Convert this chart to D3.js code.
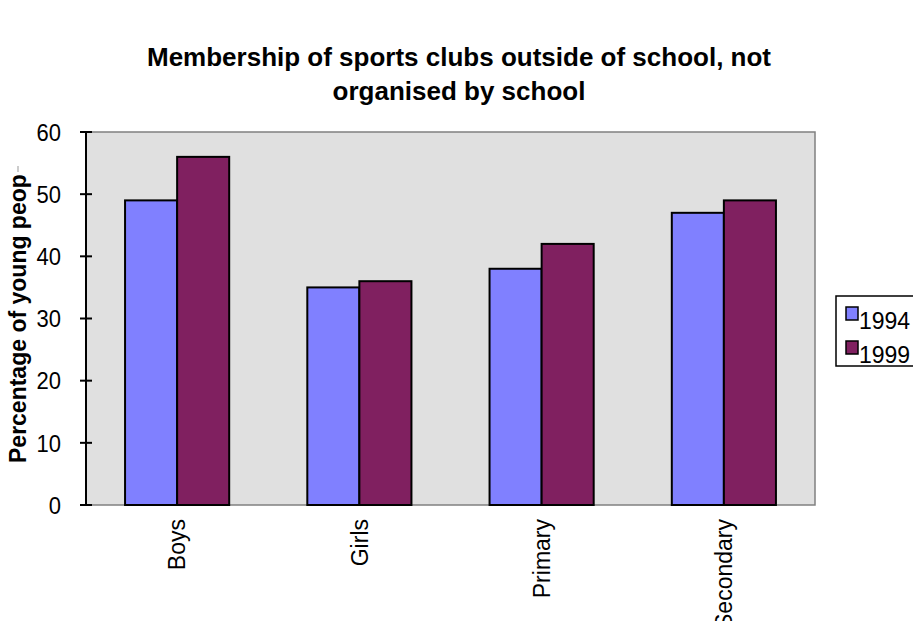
<!DOCTYPE html>
<html>
<head>
<meta charset="utf-8">
<script src="https://cdn.jsdelivr.net/npm/d3@7"></script>
<style>
  html, body { margin: 0; padding: 0; background: #fff; }
  svg { display: block; }
  text { font-family: "Liberation Sans", Arial, sans-serif; fill: #000; }
</style>
</head>
<body>
<svg id="chart" width="913" height="621"></svg>
<script>
const titleLines = ["Membership of sports clubs outside of school, not", "organised by school"];
const yAxisTitle = "Percentage of young people";
const categories = ["Boys", "Girls", "Primary", "Secondary"];
const seriesNames = ["1994", "1999"];
const values1994 = [49, 35, 38, 47];
const values1999 = [56, 36, 42, 49];
const yTicks = [0, 10, 20, 30, 40, 50, 60];
const colors = ["#8080ff", "#802060"];

const series = [values1994, values1999];
const svg = d3.select("#chart");
const plot = { left: 86, right: 815, top: 132, bottom: 505 };

// title
svg.append("g").selectAll("text").data(titleLines).join("text")
  .attr("x", 459).attr("y", (d, i) => 66 + i * 34)
  .attr("text-anchor", "middle")
  .attr("font-size", 26).attr("font-weight", "bold")
  .text(d => d);

const y = d3.scaleLinear().domain([0, 60]).range([plot.bottom, plot.top]);
const x = d3.scaleBand().domain(categories).range([plot.left, plot.right])
  .paddingInner(0.4286).paddingOuter(0.2143);
const xs = d3.scaleBand().domain(seriesNames).range([0, x.bandwidth()]);

// plot background
svg.append("rect")
  .attr("x", plot.left).attr("y", plot.top)
  .attr("width", plot.right - plot.left).attr("height", plot.bottom - plot.top)
  .attr("fill", "#e0e0e0").attr("stroke", "#808080").attr("stroke-width", 1.5);

// bars
const groups = svg.append("g").selectAll("g").data(categories).join("g")
  .attr("transform", d => `translate(${x(d)},0)`);
groups.selectAll("rect")
  .data((c, ci) => seriesNames.map((s, si) => ({ s, si, v: series[si][ci] })))
  .join("rect")
  .attr("x", d => xs(d.s)).attr("width", xs.bandwidth())
  .attr("y", d => y(d.v)).attr("height", d => y(0) - y(d.v))
  .attr("fill", d => colors[d.si])
  .attr("stroke", "#000").attr("stroke-width", 2);

// y axis
const ya = svg.append("g").attr("transform", `translate(${plot.left},0)`);
ya.append("line").attr("x1", 0).attr("x2", 0).attr("y1", plot.top).attr("y2", plot.bottom)
  .attr("stroke", "#000").attr("stroke-width", 2);
ya.selectAll("line.tick").data(yTicks).join("line").attr("class", "tick")
  .attr("x1", -6).attr("x2", 6).attr("y1", d => y(d)).attr("y2", d => y(d))
  .attr("stroke", "#000").attr("stroke-width", 2);
ya.selectAll("text").data(yTicks).join("text")
  .attr("transform", d => `translate(-25,${y(d)}) scale(1,1.1)`)
  .attr("dy", "0.36em")
  .attr("text-anchor", "end").attr("font-size", 22)
  .text(d => d);

// x labels
svg.append("g").selectAll("text").data(categories).join("text")
  .attr("transform", d => `translate(${x(d) + x.bandwidth() / 2},519) rotate(-90)`)
  .attr("text-anchor", "end").attr("dy", "0.36em")
  .attr("font-size", 23)
  .text(d => d);

// y axis title (clipped like the original)
svg.append("defs").append("clipPath").attr("id", "ytclip")
  .append("rect").attr("x", 0).attr("y", 173).attr("width", 40).attr("height", 340);
svg.append("g").attr("clip-path", "url(#ytclip)")
  .append("text")
  .attr("transform", "translate(18,463) rotate(-90)")
  .attr("text-anchor", "start").attr("dy", "0.36em")
  .attr("font-size", 23).attr("font-weight", "bold")
  .text(yAxisTitle);
svg.append("line").attr("x1", 18).attr("x2", 18).attr("y1", 172).attr("y2", 166)
  .attr("stroke", "#999").attr("stroke-width", 1);

// legend
const lg = svg.append("g");
lg.append("rect").attr("x", 836).attr("y", 296).attr("width", 120).attr("height", 70)
  .attr("fill", "#fff").attr("stroke", "#000").attr("stroke-width", 1.5);
const items = lg.selectAll("g").data(seriesNames).join("g")
  .attr("transform", (d, i) => `translate(846,${307 + i * 34})`);
items.append("rect").attr("width", 12).attr("height", 13)
  .attr("fill", (d, i) => colors[i]).attr("stroke", "#000").attr("stroke-width", 1.5);
items.append("text").attr("x", 13).attr("y", 22).attr("font-size", 23).text(d => d);
</script>
</body>
</html>
